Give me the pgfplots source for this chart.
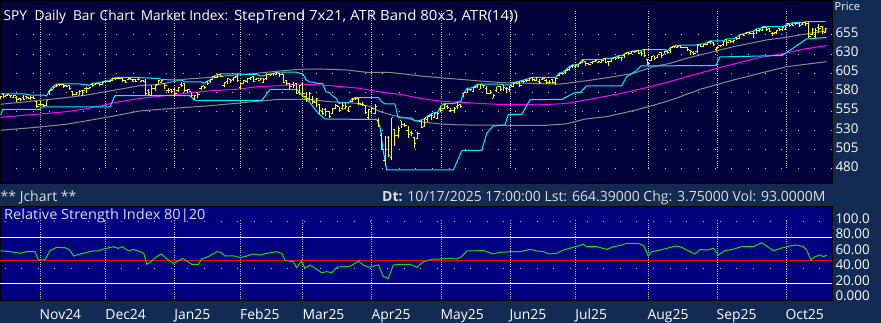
\documentclass[border=0pt]{standalone}
\usepackage{fontspec}
\setmainfont{Open Sans}
\usepackage{pgfplots}
\usepackage{pgfplotstable}
\pgfplotsset{compat=1.18}
\definecolor{outerbg}{HTML}{132A52}
\definecolor{topbg}{HTML}{02023A}
\definecolor{rsibg}{HTML}{000080}
\definecolor{barY}{HTML}{FFFF00}
\definecolor{cyanc}{HTML}{00F0FF}
\definecolor{magc}{HTML}{FF00FF}
\definecolor{grayc}{HTML}{8C8C8C}
\definecolor{gridc}{HTML}{C8C8C8}
\definecolor{rsig}{HTML}{10E010}
\definecolor{txtc}{HTML}{DCDCDC}
\tikzset{
  hgrid/.style={gridc, line width=1pt, dash pattern=on 1pt off 15.63pt},
  vgrid/.style={gridc, line width=0.8pt, dash pattern=on 0.8pt off 1.5pt},
}
\pgfdeclareplotmark{rtick}{\pgfpathmoveto{\pgfqpoint{0pt}{0pt}}\pgfpathlineto{\pgfqpoint{1.8pt}{0pt}}\pgfusepathqstroke}
\pgfdeclareplotmark{ltick}{\pgfpathmoveto{\pgfqpoint{-1.8pt}{0pt}}\pgfpathlineto{\pgfqpoint{0pt}{0pt}}\pgfusepathqstroke}
\pgfplotstableread{
i o h l c cu
0 572 575 571 574.4 578.2
1 578 578.2 574.3 574.5 578.2
2 576.1 577.3 574.7 576.7 578.2
3 576 576.6 572.5 575.7 578.2
4 573.1 576.6 572.5 575.4 578.2
5 573.4 574.8 567.6 570.1 578.2
6 572 572.2 568.5 571.3 578.2
7 573.6 576.6 570.2 571.1 578.2
8 574.7 574.8 572.6 572.9 577.3
9 572 575 570.5 573.9 576.6
10 573.4 575.4 571.4 572.1 576.6
11 568.3 568.3 561.1 561.3 576.6
12 563.9 568.2 562.9 563.6 576.6
13 563.8 565.1 560.5 562.4 576.6
14 563.2 569.2 563 569.2 575.4
15 580.7 583.4 576.9 582.5 583.4
16 584.4 588 584.2 586.9 588
17 587.3 590.7 587.3 589.3 590.7
18 590.8 591.2 588 589.8 591.2
19 589.8 590.4 585.5 588 591.2
20 588.5 590.3 587.1 588.3 591.2
21 588.5 589 583.9 584.6 591.2
22 581.4 581.9 575.6 577.5 591.2
23 577.8 581.1 576.9 579.8 591.2
24 576.2 582.5 576.1 581.8 591.2
25 581.9 582.3 575.4 582 590.4
26 584.8 586.5 578.9 585.1 590.3
27 585 587.5 584.5 586.8 589
28 590.6 592 586.7 588.6 592
29 589.8 592.3 589.1 591.7 592.3
30 591.5 591.9 588.3 589.8 592.3
31 590.5 594.1 590.2 593.4 594.1
32 593.8 595.1 592.9 594.4 595.1
33 594.2 595 593.1 594.7 595.1
34 596.2 598.5 595.5 598.3 598.5
35 598.3 599.1 596.9 597.6 599.1
36 598 599.7 597.7 598.4 599.7
37 598.4 598.6 594.4 595.4 599.7
38 596.1 596.6 592.4 593.5 599.7
39 596.4 599 596.1 598.1 599.7
40 597.2 597.8 594.8 594.9 599.7
41 597 597.8 593.4 594.8 599.7
42 596.6 598.4 595.8 597.4 599.7
43 594.9 595.9 593.6 595 599
44 594.7 597 577.7 578.1 599
45 583.1 584.7 577.6 577.8 599
46 576.5 590.2 575.6 585.6 598.4
47 585.2 589.6 582 589 598.4
48 589.9 595.1 589.8 595.1 598.4
49 593.3 596.3 591.9 595.1 597
50 591.6 591.9 584.9 589.1 597
51 582.4 586.2 578.9 582.7 596.3
52 584.4 585.1 578.9 580.6 596.3
53 584 585.7 575.1 579.2 596.3
54 581.9 587 580.8 586.4 596.3
55 590.4 593.8 587.7 589.5 596.3
56 591.7 592.1 581.1 582.9 593.8
57 583 584.9 579.5 583.8 593.8
58 580.8 580.8 573.5 575.4 593.8
59 570.8 576.8 570.4 576.4 593.8
60 579.3 579.9 573.3 577.1 593.8
61 584.6 588.2 582.5 587.1 593.8
62 588.5 588.7 584.9 585.9 592.1
63 594.8 594.9 590.7 591.6 594.9
64 594.5 596.9 592.5 596.9 596.9
65 601.1 601.1 598.3 600 601.1
66 599.2 603.4 599 603.2 603.4
67 603.2 604.2 600.2 601.4 604.2
68 588.7 593.6 587.6 593.3 604.2
69 594.3 599.1 590.9 598.7 604.2
70 597.4 597.8 592.9 595.5 604.2
71 597.5 600.2 594.3 599.4 604.2
72 601.1 603.5 594.7 595.4 604.2
73 586.6 594.2 584.4 591.7 604.2
74 591.5 596 591 595.5 603.5
75 594.2 598 592.1 597.8 603.5
76 598.5 599.9 596.7 599.8 603.5
77 600.4 601.6 593.5 594.3 603.5
78 597.5 599 596.2 598.4 603.5
79 596.1 599.4 596 598.8 601.6
80 592.8 598.2 592.1 597 601.6
81 597.9 603.3 596.6 603.1 603.3
82 603.2 604.1 602.3 603 604.1
83 604.2 604.8 601.7 604.8 604.8
84 603.2 606.4 602.8 606.1 606.4
85 604.8 605 599.6 603.7 606.4
86 603.5 603.9 593.1 593.5 606.4
87 595.8 596.3 590.3 591 606.4
88 591.2 591.9 583.6 588.2 606.4
89 589.9 593.6 585.6 588.5 606.4
90 591 592 578.5 578.7 606.4
91 580 589.1 576.8 588.6 605
92 590.6 591.7 574.4 578.2 603.9
93 574.9 580.6 567.5 572.1 596.3
94 571.9 580.1 568.3 578.3 593.6
95 570.9 575.6 565.5 568.1 593.6
96 566.4 572.9 561.1 571.4 592
97 563.6 565.5 551.6 556.6 591.7
98 555.6 560.2 549.9 552.1 591.7
99 558.3 559.2 549.8 555 580.6
100 555 555.6 546.2 547.9 580.1
101 552.2 559.9 552 558.9 575.6
102 558.6 565.5 558.2 562.9 572.9
103 561 561 554.5 557 565.5
104 558.6 566.7 557 562.9 566.7
105 559.1 566.4 558.4 561.3 566.7
106 556.7 561.4 554.4 561.4 566.7
107 567.7 572.1 567 571 572.1
108 572.1 573.2 570.5 572.3 573.2
109 572.2 573.3 563.2 565.6 573.3
110 564.3 567.8 561.8 564.2 573.3
111 563 563.8 552.6 553.2 573.3
112 547.6 558.5 544.7 557.2 573.3
113 555 560.5 551.3 558.6 573.3
114 552.5 564.9 552.3 562 573.3
115 543.9 546.8 534.6 535.5 573.3
116 524.2 526.4 505.7 505.8 567.8
117 490.7 523 483.4 505 564.9
118 521.1 522.9 495 497.6 564.9
119 494.6 546.7 491.2 546.7 564.9
120 531.4 532.7 509.4 524.3 564.9
121 523.6 535.6 520.2 533.1 546.8
122 542.7 542.9 533.1 537.7 546.7
123 537.8 540.1 535.3 536.3 546.7
124 530.9 536.7 520 525.2 546.7
125 527.1 529.6 523.3 525.9 546.7
126 520.9 521.4 507.6 513.6 542.9
127 519.2 528.3 518.8 526.8 542.9
128 541.9 544 533.1 534.6 544
129 535.1 545.6 534.4 545.3 545.6
130 545.2 549.4 541.9 549 549.4
131 549.8 551.9 543.7 549.2 551.9
132 547.3 553.6 547 552.5 553.6
133 546 553.8 545.9 552.7 553.8
134 558 562.2 554.6 556.1 562.2
135 559.1 565.3 558.3 564 565.3
136 561.3 563.3 558.8 560.8 565.3
137 555.8 559 554.3 556.2 565.3
138 556.6 560.4 552.8 558.6 565.3
139 561.6 567.5 558.5 562.4 567.5
140 563.8 564.8 560.1 561.6 567.5
141 578 579.5 573.5 579.5 579.5
142 579.8 585.5 579.2 583.2 585.5
143 584 585.1 581.7 583.8 585.5
144 581.7 587 581.4 586.6 587
145 587.1 590.4 585.2 590.1 590.4
146 584 590.8 583.9 590.7 590.8
147 589 590 585.6 588.8 590.8
148 584.7 588.9 578.1 579.2 590.8
149 578.9 582.9 577.4 579.4 590.8
150 572.4 578.3 572.1 575.6 590.8
151 582.2 587.4 579.9 587.3 590.8
152 588.1 588.7 583.3 583.8 590.8
153 590 590 582.4 586.2 590
154 585 587.2 579.8 585.5 590
155 583.8 588.8 581.1 588.7 590
156 588.1 592.9 587.7 591.9 592.9
157 593.1 593.7 591.2 591.8 593.7
158 593.4 594.8 586.8 588.9 594.8
159 594.3 596.1 592.5 594.7 596.1
160 595.3 597 594 595.3 597
161 595.6 598.8 595.1 598.5 598.8
162 599.6 599.8 594.9 596.8 599.8
163 595.4 599.2 594.9 599.1 599.8
164 593.9 597.3 590.9 592.4 599.8
165 596.3 599.8 595.6 598.1 599.8
166 596.2 597.2 592.2 592.9 599.8
167 593.5 596.6 591.9 592.8 599.8
168 596.4 597.5 591.1 592.3 599.8
169 592.4 598.2 589.9 597.9 599.8
170 601.7 605.3 600.9 604.2 605.3
171 605.2 605.9 602.8 604.4 605.9
172 606.1 609.5 605.2 609.1 609.5
173 609.9 613.4 607.8 611.9 613.4
174 614.2 616 611.9 614.7 616
175 613.2 615.6 611.9 614.5 616
176 613.9 617.2 613.3 617.2 617.2
177 619 622.8 618.9 621.8 622.8
178 619.9 620.5 614.5 617.3 622.8
179 617.9 618.6 616 616.8 622.8
180 619.3 621.2 617.4 620.6 622.8
181 620.7 623.4 619.5 621.7 622.8
182 619.2 621.4 618.6 620.1 622.8
183 619.7 621.7 618.3 621.3 622.8
184 624 624.4 618.6 618.6 624.4
185 620.2 621.2 614.6 620.7 624.4
186 620.8 624.8 620.6 624.4 624.8
187 625.7 625.9 622.9 624 625.9
188 625.2 627.9 624.7 625.2 627.9
189 625.5 625.9 621.3 625.3 627.9
190 627.8 630.4 625.5 630.4 630.4
191 631.9 632.3 630.1 630.6 632.3
192 631.2 633.7 630.3 633.2 633.7
193 633.6 634.2 631.6 633 634.2
194 634.5 634.8 630.4 631.4 634.8
195 632.1 633.8 627.6 630.6 634.8
196 635.6 635.9 626.9 628.2 635.9
197 622.9 622.9 615.9 618.3 635.9
198 622 627.9 621.6 627.5 635.9
199 627.6 628.2 622.2 624.3 635.9
200 625.3 629.5 624.3 629 635.9
201 632.4 632.5 625.3 628.4 635.9
202 630.1 633.7 629.7 633.2 635.9
203 633.3 634.6 630 631.9 634.6
204 634.1 638.7 631.4 638.5 638.7
205 640.6 640.8 637.4 640.6 640.8
206 638.3 641.3 638 640.6 641.3
207 641.4 641.6 638.1 639.1 641.6
208 638.6 639.7 637.9 639 641.6
209 638.8 639.8 634.3 635.6 641.6
210 635.2 635.5 628.7 633.9 641.6
211 632.1 633.7 629.4 631.4 641.6
212 633.5 642.2 632 641 642.2
213 642.5 643.1 640.2 640.5 643.1
214 640.2 643.5 639.6 643.2 643.5
215 642.6 645.4 642.4 644.6 645.4
216 645.1 647.4 643.2 646.8 647.4
217 645.4 645.7 641 643 647.4
218 635.8 638.8 633.2 638.6 647.4
219 640.8 642.3 639 641.8 647.4
220 642.3 647.1 641.1 647 647.4
221 649.3 650 641.1 645 650
222 647.6 648.4 645 646.6 650
223 646.6 648.7 645 648.1 650
224 651.3 652.2 648.1 649.9 652.2
225 650.8 655.5 650.1 655.1 655.5
226 655.1 656.2 654.1 654.9 656.2
227 656.7 658.3 656 658.2 658.3
228 658.8 658.9 656 657.3 658.9
229 657.3 659.6 651.1 656.5 659.6
230 661.6 662.9 656.8 661.2 662.9
231 661.1 663.4 659.2 662.5 663.4
232 661.5 665.8 661 665.4 665.8
233 665.3 665.9 660.4 661.8 665.9
234 663.3 663.4 658.5 659.9 665.9
235 657.2 658.4 653.2 657.1 665.9
236 658.4 661.8 656.1 660.7 665.9
237 663.1 664 660.6 662.4 665.9
238 661.6 665.3 660.3 664.9 665.9
239 661.7 667.9 661.6 667 667.9
240 669.4 669.4 665.3 667.7 669.4
241 669.1 671 666.8 667.7 671
242 670.3 671.1 667.5 670 671.1
243 670.6 671.6 665 667.5 671.6
244 668.7 671.6 667.8 671.5 671.6
245 671.3 672.3 666.6 669.6 672.3
246 670.6 671.7 652.2 652.4 672.3
247 656.1 664 654.4 661.9 672.3
248 652.4 664.7 651.4 661.1 672.3
249 665.4 668.8 657.5 663.8 672.3
250 666.6 667.3 655.8 659.4 672.3
251 658.3 664.5 657.8 663.1 672.3
}\bars
\begin{document}
\begin{tikzpicture}
\useasboundingbox (0,0) rectangle (881pt,323pt);
\fill[outerbg] (0,0) rectangle (881pt,323pt);
\pgfplotsset{
  panel/.style={scale only axis, width=832pt, xmin=-0.173, xmax=253.02,
    axis line style={black, line width=0.8pt}, major tick length=0pt,
    yticklabel pos=right,
    tick label style={font=\fontsize{13.4}{16}\selectfont, text=white},
    yticklabel style={anchor=west, inner sep=0pt, xshift=3.3pt},
  },
}
% ---------- price panel ----------
\begin{axis}[panel, at={(0pt,140pt)}, anchor=south west, height=183pt,
  ymin=461.7, ymax=700.7,
  axis background/.style={fill=topbg},
  xtick=\empty,
  ytick={480,505,530,555,580,605,630,655},
  yticklabels={480,505,530,555,580,605,630,655},
  yticklabel style={yshift=2.3pt}]
\pgfplotsinvokeforeach{480,505,530,555,580,605,630,655}{\draw[hgrid] (axis cs:4.757,#1) -- (axis cs:253,#1);}
\pgfplotsinvokeforeach{12,32,53,73,92,113,134,155,175,197,218,239}{\draw[vgrid] (axis cs:#1,481) -- (axis cs:#1,686);}
% ATR band (gray)
\addplot[grayc, line width=1pt] coordinates {(0,564.5) (13,570.1) (20,573.1) (26.2,576.6) (33.3,581.9) (42.4,588.8) (48.5,590.6) (56.6,597.5) (62.7,599.2) (68.8,601.8) (75.9,604.1) (81,606.3) (85,608) (91.1,610.2) (97.2,610.6) (105.3,609.3) (111.4,606.3) (118.5,606) (123.6,603.7) (127.6,601.5) (133.7,599.2) (139.8,597.1) (145.9,594.9) (153,592.7) (161.1,591.9) (170.2,590.8) (178.4,595.3) (186.5,600.5) (192.6,604.9) (198.7,613.6) (203.7,618) (208.8,624.6) (212.9,628.9) (223,639.7) (233.1,648.5) (239.2,652) (246.3,657.2) (251.4,660.6)};
\addplot[grayc, line width=1pt] coordinates {(0,530.6) (10,534.1) (20,538.4) (26,542.8) (33,548) (42.4,555.8) (52.6,559.3) (62.7,562.3) (71.9,565.8) (79,568.8) (85,571) (93.2,571) (100.3,567.9) (108.4,565.8) (112.4,561.4) (115.5,554.8) (119.5,549.9) (122.6,547.3) (127.6,541.8) (133.7,538.8) (139.8,537.5) (165,536.8) (172,538.8) (178,545.3) (184.4,548.3) (192.5,556.1) (199,563.6) (204.7,571) (212.9,584.1) (223,596.2) (233.1,607.1) (239.2,613.6) (251.4,620.1)};
% moving average (magenta)
\addplot[magc, line width=1pt] coordinates {(0,547.5) (20,554.8) (27,559.3) (30,562) (35,567) (42,572) (52,576.6) (63,581.9) (73,584.5) (78,587.5) (85,588.8) (91,591) (100,589) (109,585.5) (115,581) (122,577.2) (128,572) (134,568.5) (140,567) (151,564.5) (164,563.8) (172,565.5) (176,568.5) (188,578) (197,586.7) (205,595.8) (218,611.5) (230,624.6) (239,631.5) (245,637) (251.4,641.2)};
% StepTrend lower (cyan)
\addplot[cyanc, line width=1pt] coordinates {(0,550.5) (0.7,557.7) (12,557.7) (12.3,561) (33.3,561) (34.8,575.7) (57.6,575.7) (59.2,569.7) (79.5,569.7) (82,583.8) (90.1,584.1) (92,575.3) (94.2,566.2) (96.6,553.1) (98.7,545.3) (114.5,544.6) (115.5,534.8) (116.4,504.8) (117.5,478.7) (137.8,478.7) (140.4,504.2) (146.4,504.2) (148,527) (149.9,536.2) (153.5,537.5) (154.5,551.2) (158.6,551.2) (161.1,570.4) (170.9,571) (174.8,579.9) (176.3,579.9) (178.4,588.4) (189,588.4) (190.5,600.5) (193.3,608) (194.9,614.5) (217.7,615.2) (218.9,626.3) (237.8,628.2) (241.2,638) (245.3,649.8) (251.4,651.7)};
% StepTrend upper (cyan)
\addplot[cyanc, line width=1pt] table[x=i, y=cu] {\bars};
% OHLC bars
\addplot[barY, only marks, mark=rtick, mark options={line width=1pt, barY},
  error bars/.cd, y dir=both, y explicit, error mark=none,
  error bar style={line width=1pt, barY}]
  table[x=i, y=c, y error plus expr=\thisrow{h}-\thisrow{c}, y error minus expr=\thisrow{c}-\thisrow{l}] {\bars};
\addplot[barY, only marks, mark=ltick, mark options={line width=1pt, barY}] table[x=i, y=o] {\bars};
\end{axis}
% ---------- RSI panel ----------
\begin{axis}[panel, at={(0pt,22.3pt)}, anchor=south west, height=94.7pt,
  ymin=-1.8, ymax=120.1,
  axis background/.style={fill=rsibg},
  xtick={12,32,53,73,92,113,134,155,175,197,218,239},
  xticklabels={Nov24,Dec24,Jan25,Feb25,Mar25,Apr25,May25,Jun25,Jul25,Aug25,Sep25,Oct25},
  xticklabel style={anchor=base west, inner sep=0pt, yshift=-18.6pt, xshift=-0.5pt, font=\fontsize{13.9}{16}\selectfont},
  ytick={0,20,40,60,80,100},
  yticklabels={0.000,20.00,40.00,60.00,80.00,100.0},
  yticklabel style={yshift=3.3pt}]
\pgfplotsinvokeforeach{100,40}{\draw[hgrid] (axis cs:1.2,#1) -- (axis cs:253,#1);}
\pgfplotsinvokeforeach{12,32,53,73,92,113,134,155,175,197,218,239}{\draw[vgrid] (axis cs:#1,0) -- (axis cs:#1,102);}
\addplot[white, line width=1.2pt] coordinates {(-1,80) (254,80)};
\addplot[white, line width=1.2pt] coordinates {(-1,20) (254,20)};
\addplot[red, line width=1.2pt] coordinates {(-1,50) (254,50)};
\addplot[rsig, line width=1pt] coordinates {(0,62.5) (3,61.3) (6,59.2) (8,61.3) (10.5,61.3) (11.5,50.6) (13.5,50.6) (15,62.5) (17,66.9) (19.6,66.4) (21,63.4) (22.3,55.7) (24.2,58.3) (28.2,62.2) (30,62.5) (31.3,64.7) (34.3,67.7) (35.8,65.6) (37,67.7) (39,62.2) (40.4,64.3) (42.4,61.3) (43.6,59.2) (44.5,45) (46,49.3) (47.5,54.9) (49,58.3) (50.6,51.9) (52.6,46.3) (54.6,50.6) (55.5,52.7) (56.6,49.3) (58.2,45) (60.2,45) (61.2,51.9) (63.2,54.9) (65.8,61.3) (67,60.5) (68.3,55.7) (70.8,56) (72.9,53.6) (74.9,55.7) (76.9,58.3) (79,57) (81,59.2) (84,61.3) (85.6,59.2) (86.6,49.7) (89.1,48.4) (90.1,40.7) (91.6,49.3) (92.6,39.9) (94.2,44.1) (95.7,39.9) (97.7,34.3) (99.3,35.6) (100.8,34.3) (102.3,41.2) (103.9,42) (105.8,42) (107,44.1) (108.9,49.3) (110.4,44.1) (111.9,41.2) (113.5,42.9) (115,44.1) (116.5,29.1) (118,27) (119.5,44.1) (121.5,45) (124.6,45) (126.7,41.2) (128.7,48.4) (131.2,51.5) (133.7,51.9) (136.8,52.7) (138.9,51.9) (140.3,54.9) (141.9,62.2) (146.9,62.7) (150,58.3) (152,60.5) (155.5,61.3) (158.1,61.3) (161.1,64.3) (163.2,62.2) (165.2,61.3) (167.2,58.3) (169.2,59.2) (171.3,63.4) (174.3,66.9) (177.3,70.8) (178.3,67.7) (181.4,67.7) (184.5,64.3) (186.5,67.7) (189,69.9) (190.5,72.1) (194.1,72.1) (195.8,68.6) (197.1,55.7) (198.2,61.3) (200.7,63.4) (202.8,65.6) (205.3,68.6) (206.8,67.7) (208.8,63.4) (211.3,58.3) (212.9,64.3) (214.9,63.4) (217,65.6) (218.4,57) (220.5,62.7) (222.8,64.3) (225.5,67.7) (229.1,67.7) (231.6,72.9) (233.1,68.6) (235.2,62.5) (237.4,65.6) (240.2,68.6) (242.2,69.9) (244.3,67.7) (245.3,63.4) (246.6,50.6) (247.9,54.9) (249.4,57) (250.4,54.9) (251.4,57)};
\end{axis}
% ---------- texts ----------
\node[anchor=base west, inner sep=0pt, text=white, font=\fontsize{13.7}{16}\selectfont] at (3.5pt,302.3pt) {SPY\hspace{7.5pt}Daily\hspace{7pt}Bar\hspace{4.5pt}Chart\hspace{6pt}Market Index:};
\node[anchor=base west, inner sep=0pt, text=white, font=\fontsize{14}{16}\selectfont] at (233.8pt,302.3pt) {\scalebox{1.07}[1]{StepTrend 7x21, ATR Band 80x3, ATR(14))}};
\node[anchor=base west, inner sep=0pt, text=white, font=\fontsize{11}{13}\selectfont] at (834.5pt,312.1pt) {Price};
\node[anchor=base west, inner sep=0pt, text=txtc, font=\fontsize{14}{16}\selectfont] at (0.5pt,121.3pt) {** Jchart **};
\node[anchor=base east, inner sep=0pt, text=txtc, font=\fontsize{14}{16}\selectfont] at (825.7pt,121.3pt) {\textbf{Dt:} 10/17/2025 17:00:00 Lst: 664.39000 Chg: 3.75000 Vol: 93.0000M};
\node[anchor=base west, inner sep=0pt, text=txtc, font=\fontsize{14}{16}\selectfont] at (4pt,103.7pt) {\scalebox{1.04}[1]{Relative Strength Index 80|20}};
\end{tikzpicture}
\end{document}
